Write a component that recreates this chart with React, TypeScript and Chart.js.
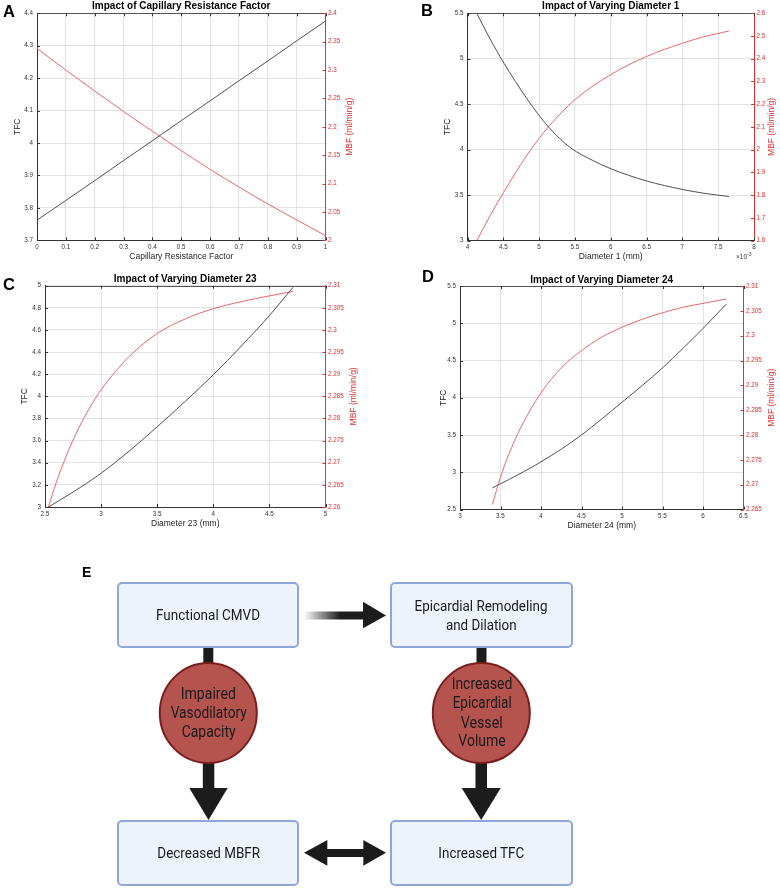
import React, { useEffect, useRef } from 'react';
import { Chart, registerables } from 'chart.js';

Chart.register(...registerables);

const FONT = "'Liberation Sans', Arial, Helvetica, sans-serif";
const DIAGRAM_FONT = "Roboto, 'Noto Sans', Arial, sans-serif";

// ---------------- Panel A: Capillary resistance factor ----------------
const A_X = [0, 0.1, 0.2, 0.3, 0.4, 0.5, 0.6, 0.7, 0.8, 0.9, 1];
const A_TFC = [3.762, 3.823, 3.884, 3.946, 4.007, 4.069, 4.13, 4.192, 4.253, 4.315, 4.376];
const A_MBF = [2.338, 2.3, 2.263, 2.227, 2.192, 2.158, 2.125, 2.094, 2.064, 2.036, 2.008];
const A_X_TICKS = [0, 0.1, 0.2, 0.3, 0.4, 0.5, 0.6, 0.7, 0.8, 0.9, 1];
const A_TFC_TICKS = [3.7, 3.8, 3.9, 4, 4.1, 4.2, 4.3, 4.4];
const A_MBF_TICKS = [2, 2.05, 2.1, 2.15, 2.2, 2.25, 2.3, 2.35, 2.4];

// ---------------- Panel B: Diameter 1 (x10^-3) ----------------
const B_TFC_X = [4.13, 4.3, 4.51, 4.83, 5.13, 5.44, 5.75, 6.0, 6.5, 7.0, 7.3, 7.65];
const B_TFC = [5.5, 5.24, 4.95, 4.56, 4.25, 4.02, 3.88, 3.79, 3.655, 3.562, 3.52, 3.484];
const B_MBF_X = [4.13, 4.3, 4.5, 4.85, 5.13, 5.5, 6.0, 6.5, 7.0, 7.3, 7.65];
const B_MBF = [1.6, 1.7, 1.81, 1.985, 2.1, 2.22, 2.33, 2.41, 2.468, 2.497, 2.522];
const B_X_TICKS = [4, 4.5, 5, 5.5, 6, 6.5, 7, 7.5, 8];
const B_TFC_TICKS = [3, 3.5, 4, 4.5, 5, 5.5];
const B_MBF_TICKS = [1.6, 1.7, 1.8, 1.9, 2, 2.1, 2.2, 2.3, 2.4, 2.5, 2.6];

// ---------------- Panel C: Diameter 23 ----------------
const C_TFC_X = [2.53, 2.75, 3.0, 3.25, 3.5, 3.75, 4.0, 4.25, 4.5, 4.71];
const C_TFC = [3.0, 3.135, 3.305, 3.505, 3.725, 3.955, 4.195, 4.455, 4.73, 4.985];
const C_MBF_X = [2.53, 2.6, 2.7, 2.8, 2.9, 3.0, 3.25, 3.5, 3.75, 4.0, 4.25, 4.5, 4.71];
const C_MBF = [2.26, 2.2655, 2.2722, 2.2778, 2.2825, 2.2865, 2.294, 2.2992, 2.3025, 2.3048, 2.3064, 2.3077, 2.3087];
const C_X_TICKS = [2.5, 3, 3.5, 4, 4.5, 5];
const C_TFC_TICKS = [3, 3.2, 3.4, 3.6, 3.8, 4, 4.2, 4.4, 4.6, 4.8, 5];
const C_MBF_TICKS = [2.26, 2.265, 2.27, 2.275, 2.28, 2.285, 2.29, 2.295, 2.3, 2.305, 2.31];

// ---------------- Panel D: Diameter 24 ----------------
const D_TFC_X = [3.4, 3.6, 3.8, 4.0, 4.25, 4.5, 4.75, 5.0, 5.25, 5.5, 5.75, 6.0, 6.29];
const D_TFC = [2.79, 2.9, 3.015, 3.14, 3.31, 3.5, 3.715, 3.94, 4.165, 4.4, 4.66, 4.93, 5.26];
const D_MBF_X = [3.4, 3.5, 3.6, 3.75, 4.0, 4.25, 4.5, 4.75, 5.0, 5.25, 5.5, 5.75, 6.0, 6.29];
const D_MBF = [2.266, 2.2715, 2.276, 2.2815, 2.2885, 2.2935, 2.297, 2.2997, 2.3017, 2.3033, 2.3046, 2.3057, 2.3065, 2.3074];
const D_X_TICKS = [3, 3.5, 4, 4.5, 5, 5.5, 6, 6.5];
const D_TFC_TICKS = [2.5, 3, 3.5, 4, 4.5, 5, 5.5];
const D_MBF_TICKS = [2.265, 2.27, 2.275, 2.28, 2.285, 2.29, 2.295, 2.3, 2.305, 2.31];

const RED = '#df2f2f';
const RED_LINE = '#e86767';
const BLACK_LINE = '#505050';
const AXIS = '#333333';
const GRID = '#e3e3e3';
const TICK_SIZE = 6.3;

type Spec = {
  title: string;
  xTitle: string;
  xTicks: number[];
  lTicks: number[];
  rTicks: number[];
  tfcX: number[];
  tfc: number[];
  mbfX: number[];
  mbf: number[];
  box: { left: number; top: number; width: number; height: number };
  area: { l: number; t: number; r: number; b: number };
  titleCenter: number;
  lTitleX: number;
  rTitleOffset: number;
  exponent?: boolean;
};

const PANELS: Spec[] = [
  {
    title: 'Impact of Capillary Resistance Factor',
    xTitle: 'Capillary Resistance Factor',
    xTicks: A_X_TICKS, lTicks: A_TFC_TICKS, rTicks: A_MBF_TICKS,
    tfcX: A_X, tfc: A_TFC, mbfX: A_X, mbf: A_MBF,
    box: { left: 0, top: 0, width: 390, height: 262 },
    area: { l: 37, t: 13.3, r: 325.5, b: 240.3 },
    titleCenter: 6.7, lTitleX: 18, rTitleOffset: 24.5,
  },
  {
    title: 'Impact of Varying Diameter 1',
    xTitle: 'Diameter 1 (mm)',
    xTicks: B_X_TICKS, lTicks: B_TFC_TICKS, rTicks: B_MBF_TICKS,
    tfcX: B_TFC_X, tfc: B_TFC, mbfX: B_MBF_X, mbf: B_MBF,
    box: { left: 390, top: 0, width: 390, height: 262 },
    area: { l: 77.5, t: 13.3, r: 364, b: 240.5 },
    titleCenter: 6.7, lTitleX: 58, rTitleOffset: 17.5, exponent: true,
  },
  {
    title: 'Impact of Varying Diameter 23',
    xTitle: 'Diameter 23 (mm)',
    xTicks: C_X_TICKS, lTicks: C_TFC_TICKS, rTicks: C_MBF_TICKS,
    tfcX: C_TFC_X, tfc: C_TFC, mbfX: C_MBF_X, mbf: C_MBF,
    box: { left: 0, top: 270, width: 390, height: 259 },
    area: { l: 45, t: 15.7, r: 325.5, b: 237 },
    titleCenter: 9, lTitleX: 25, rTitleOffset: 28,
  },
  {
    title: 'Impact of Varying Diameter 24',
    xTitle: 'Diameter 24 (mm)',
    xTicks: D_X_TICKS, lTicks: D_TFC_TICKS, rTicks: D_MBF_TICKS,
    tfcX: D_TFC_X, tfc: D_TFC, mbfX: D_MBF_X, mbf: D_MBF,
    box: { left: 390, top: 270, width: 390, height: 261 },
    area: { l: 70, t: 16, r: 353.5, b: 239.5 },
    titleCenter: 10, lTitleX: 53.3, rTitleOffset: 28.5,
  },
];

function decorPlugin(spec: Spec) {
  return {
    id: 'matlabDecor',
    afterDraw(chart: any) {
      const { ctx, chartArea: a, scales } = chart;
      ctx.save();
      // top box edge
      ctx.strokeStyle = '#555';
      ctx.lineWidth = 1;
      ctx.beginPath();
      ctx.moveTo(a.left, Math.round(a.top) + 0.5);
      ctx.lineTo(a.right, Math.round(a.top) + 0.5);
      ctx.stroke();
      // inner tick marks
      ctx.strokeStyle = AXIS;
      ctx.beginPath();
      scales.x.ticks.forEach((t: any) => {
        const px = Math.round(scales.x.getPixelForValue(t.value)) + 0.5;
        ctx.moveTo(px, a.bottom);
        ctx.lineTo(px, a.bottom - 3);
        ctx.moveTo(px, a.top);
        ctx.lineTo(px, a.top + 3);
      });
      scales.y.ticks.forEach((t: any) => {
        const py = Math.round(scales.y.getPixelForValue(t.value)) + 0.5;
        ctx.moveTo(a.left, py);
        ctx.lineTo(a.left + 3, py);
      });
      ctx.stroke();
      ctx.strokeStyle = RED;
      ctx.beginPath();
      scales.y1.ticks.forEach((t: any) => {
        const py = Math.round(scales.y1.getPixelForValue(t.value)) + 0.5;
        ctx.moveTo(a.right, py);
        ctx.lineTo(a.right - 3, py);
      });
      ctx.stroke();
      // exponent marker
      if (spec.exponent) {
        ctx.fillStyle = AXIS;
        ctx.textBaseline = 'middle';
        ctx.textAlign = 'right';
        ctx.font = `6.5px ${FONT}`;
        ctx.fillText('\u00d710', a.right - 7, a.bottom + 16.5);
        ctx.textAlign = 'left';
        ctx.font = `5px ${FONT}`;
        ctx.fillText('-3', a.right - 7, a.bottom + 14);
      }
      // right axis title (reads bottom to top)
      ctx.translate(a.right + spec.rTitleOffset, (a.top + a.bottom) / 2);
      ctx.rotate(-Math.PI / 2);
      ctx.fillStyle = RED;
      ctx.font = `8.5px ${FONT}`;
      ctx.textAlign = 'center';
      ctx.textBaseline = 'middle';
      ctx.fillText('MBF (ml/min/g)', 0, 0);
      ctx.restore();
    },
  };
}

function buildConfig(spec: Spec): any {
  const xH = spec.box.height - spec.area.b;
  const lW = spec.area.l;
  const rW = spec.box.width - spec.area.r;
  const titleLH = 10;
  const padTop = spec.titleCenter - titleLH / 2;
  const padBottom = spec.area.t - titleLH - padTop;
  const fixedTicks = (arr: number[]) => (s: any) => {
    s.ticks = arr.map((v) => ({ value: v }));
  };
  const fmt = (v: any) => String(v);
  return {
    type: 'line',
    data: {
      datasets: [
        {
          label: 'TFC',
          data: spec.tfcX.map((x, i) => ({ x, y: spec.tfc[i] })),
          yAxisID: 'y',
          borderColor: BLACK_LINE,
          borderWidth: 1,
          pointRadius: 0,
          cubicInterpolationMode: 'monotone',
          fill: false,
        },
        {
          label: 'MBF',
          data: spec.mbfX.map((x, i) => ({ x, y: spec.mbf[i] })),
          yAxisID: 'y1',
          borderColor: RED_LINE,
          borderWidth: 1,
          pointRadius: 0,
          cubicInterpolationMode: 'monotone',
          fill: false,
        },
      ],
    },
    options: {
      animation: false,
      responsive: false,
      maintainAspectRatio: false,
      events: [],
      layout: { padding: 0 },
      plugins: {
        legend: { display: false },
        tooltip: { enabled: false },
        title: {
          display: true,
          text: spec.title,
          fullSize: false,
          color: '#000',
          font: { family: FONT, size: 10, weight: 'bold', lineHeight: '10px' },
          padding: { top: padTop, bottom: padBottom },
        },
      },
      scales: {
        x: {
          type: 'linear',
          min: spec.xTicks[0],
          max: spec.xTicks[spec.xTicks.length - 1],
          afterBuildTicks: fixedTicks(spec.xTicks),
          afterFit: (s: any) => { s.height = xH; },
          ticks: { callback: fmt, font: { family: FONT, size: TICK_SIZE }, color: AXIS, padding: 3, maxRotation: 0, autoSkip: false },
          grid: { color: GRID, drawTicks: false },
          border: { color: AXIS, width: 1 },
          title: {
            display: true, text: spec.xTitle, color: '#262626',
            font: { family: FONT, size: 8.5, lineHeight: '10px' }, padding: { top: 0, bottom: 0 },
          },
        },
        y: {
          type: 'linear',
          position: 'left',
          min: spec.lTicks[0],
          max: spec.lTicks[spec.lTicks.length - 1],
          afterBuildTicks: fixedTicks(spec.lTicks),
          afterFit: (s: any) => { s.width = lW; },
          ticks: { callback: fmt, font: { family: FONT, size: TICK_SIZE }, color: AXIS, padding: 4, autoSkip: false },
          grid: { color: GRID, drawTicks: false },
          border: { color: AXIS, width: 1 },
          title: {
            display: true, text: 'TFC', color: '#262626',
            font: { family: FONT, size: 8.5, lineHeight: '10px' }, padding: { top: spec.lTitleX - 5, bottom: 0 },
          },
        },
        y1: {
          type: 'linear',
          position: 'right',
          min: spec.rTicks[0],
          max: spec.rTicks[spec.rTicks.length - 1],
          afterBuildTicks: fixedTicks(spec.rTicks),
          afterFit: (s: any) => { s.width = rW; },
          ticks: { callback: fmt, font: { family: FONT, size: TICK_SIZE }, color: RED, padding: 2.5, autoSkip: false },
          grid: { drawOnChartArea: false, drawTicks: false },
          border: { color: RED, width: 1 },
        },
      },
    },
    plugins: [decorPlugin(spec)],
  };
}

function ChartPanel({ spec }: { spec: Spec }) {
  const ref = useRef<HTMLCanvasElement>(null);
  useEffect(() => {
    if (!ref.current) return;
    const chart = new Chart(ref.current, buildConfig(spec));
    return () => chart.destroy();
  }, [spec]);
  return (
    <canvas
      ref={ref}
      width={spec.box.width}
      height={spec.box.height}
      style={{
        position: 'absolute',
        left: spec.box.left,
        top: spec.box.top,
        width: spec.box.width,
        height: spec.box.height,
      }}
    />
  );
}

const BOX_FILL = '#eef3fb';
const BOX_STROKE = '#8ea6d8';
const CIRCLE_FILL = '#b5534f';
const CIRCLE_STROKE = '#7a1f1f';
const ARROW = '#1c1c1c';

function Label({ x, y, w, size, children }: { x: number; y: number; w: number; size: number; children: string }) {
  return (
    <text
      x={x}
      y={y}
      textAnchor="middle"
      dominantBaseline="central"
      fontFamily={DIAGRAM_FONT}
      fontSize={size}
      fill="#1a1a1a"
      textLength={w}
      lengthAdjust="spacingAndGlyphs"
    >
      {children}
    </text>
  );
}

function Diagram() {
  return (
    <svg width={780} height={891} style={{ position: 'absolute', left: 0, top: 0 }}>
      <defs>
        <linearGradient id="fadeArrow" gradientUnits="userSpaceOnUse" x1="304" y1="0" x2="340" y2="0">
          <stop offset="0" stopColor={ARROW} stopOpacity="0" />
          <stop offset="1" stopColor={ARROW} stopOpacity="1" />
        </linearGradient>
      </defs>
      {/* panel letters */}
      <g fontFamily={FONT} fontWeight="bold" fill="#000">
        <text x={3} y={17} fontSize={16.5}>A</text>
        <text x={421} y={16} fontSize={16.5}>B</text>
        <text x={3} y={290} fontSize={16.5}>C</text>
        <text x={422} y={282} fontSize={16.5}>D</text>
        <text x={82} y={577} fontSize={14}>E</text>
      </g>

      {/* connectors box -> circle */}
      <rect x={203.3} y={646} width={10} height={18} fill={ARROW} />
      <rect x={476.5} y={646} width={10} height={18} fill={ARROW} />

      {/* down arrows circle -> box */}
      <rect x={202.8} y={760} width={11.5} height={29} fill={ARROW} />
      <polygon points="189.3,788 227.7,788 208.5,820" fill={ARROW} />
      <rect x={475.5} y={760} width={11.5} height={29} fill={ARROW} />
      <polygon points="461.7,788 500.7,788 481.2,820" fill={ARROW} />

      {/* top gradient arrow */}
      <rect x={304} y={611.5} width={60} height={8} fill="url(#fadeArrow)" />
      <polygon points="363,601.7 386,615.5 363,628.3" fill={ARROW} />

      {/* bottom double arrow */}
      <rect x={326} y={849} width={38} height={8} fill={ARROW} />
      <polygon points="327.3,840 304,852.8 327.3,865.7" fill={ARROW} />
      <polygon points="363.3,840 386,852.8 363.3,865.7" fill={ARROW} />

      {/* boxes */}
      <rect x={118} y={583} width={180} height={64} rx={4} fill={BOX_FILL} stroke={BOX_STROKE} strokeWidth={2} />
      <rect x={391} y={583} width={181} height={64} rx={4} fill={BOX_FILL} stroke={BOX_STROKE} strokeWidth={2} />
      <rect x={118} y={821} width={180} height={64} rx={4} fill={BOX_FILL} stroke={BOX_STROKE} strokeWidth={2} />
      <rect x={391} y={821} width={181} height={64} rx={4} fill={BOX_FILL} stroke={BOX_STROKE} strokeWidth={2} />

      {/* circles */}
      <ellipse cx={208.3} cy={713} rx={48.5} ry={50} fill={CIRCLE_FILL} stroke={CIRCLE_STROKE} strokeWidth={2} />
      <ellipse cx={481.3} cy={713} rx={48.5} ry={50} fill={CIRCLE_FILL} stroke={CIRCLE_STROKE} strokeWidth={2} />

      {/* box labels */}
      <Label x={208} y={615} w={104} size={15}>Functional CMVD</Label>
      <Label x={481} y={606} w={133} size={15}>Epicardial Remodeling</Label>
      <Label x={481.3} y={624.5} w={70.7} size={15}>and Dilation</Label>
      <Label x={208.7} y={853} w={102.7} size={15}>Decreased MBFR</Label>
      <Label x={481.3} y={853} w={86} size={15}>Increased TFC</Label>

      {/* circle labels */}
      <Label x={208.3} y={693.3} w={55.3} size={16}>Impaired</Label>
      <Label x={208.7} y={712} w={76} size={16}>Vasodilatory</Label>
      <Label x={208.7} y={731.5} w={54} size={16}>Capacity</Label>
      <Label x={482} y={683.5} w={60.7} size={16}>Increased</Label>
      <Label x={482.2} y={702.5} w={59} size={16}>Epicardial</Label>
      <Label x={481.7} y={722} w={42} size={16}>Vessel</Label>
      <Label x={482} y={740.5} w={47.3} size={16}>Volume</Label>
    </svg>
  );
}

export default function App() {
  return (
    <div
      style={{
        position: 'absolute',
        left: 0,
        top: 0,
        width: 780,
        height: 891,
        overflow: 'hidden',
        background: '#fff',
      }}
    >
      {PANELS.map((p) => (
        <ChartPanel key={p.title} spec={p} />
      ))}
      <Diagram />
    </div>
  );
}
